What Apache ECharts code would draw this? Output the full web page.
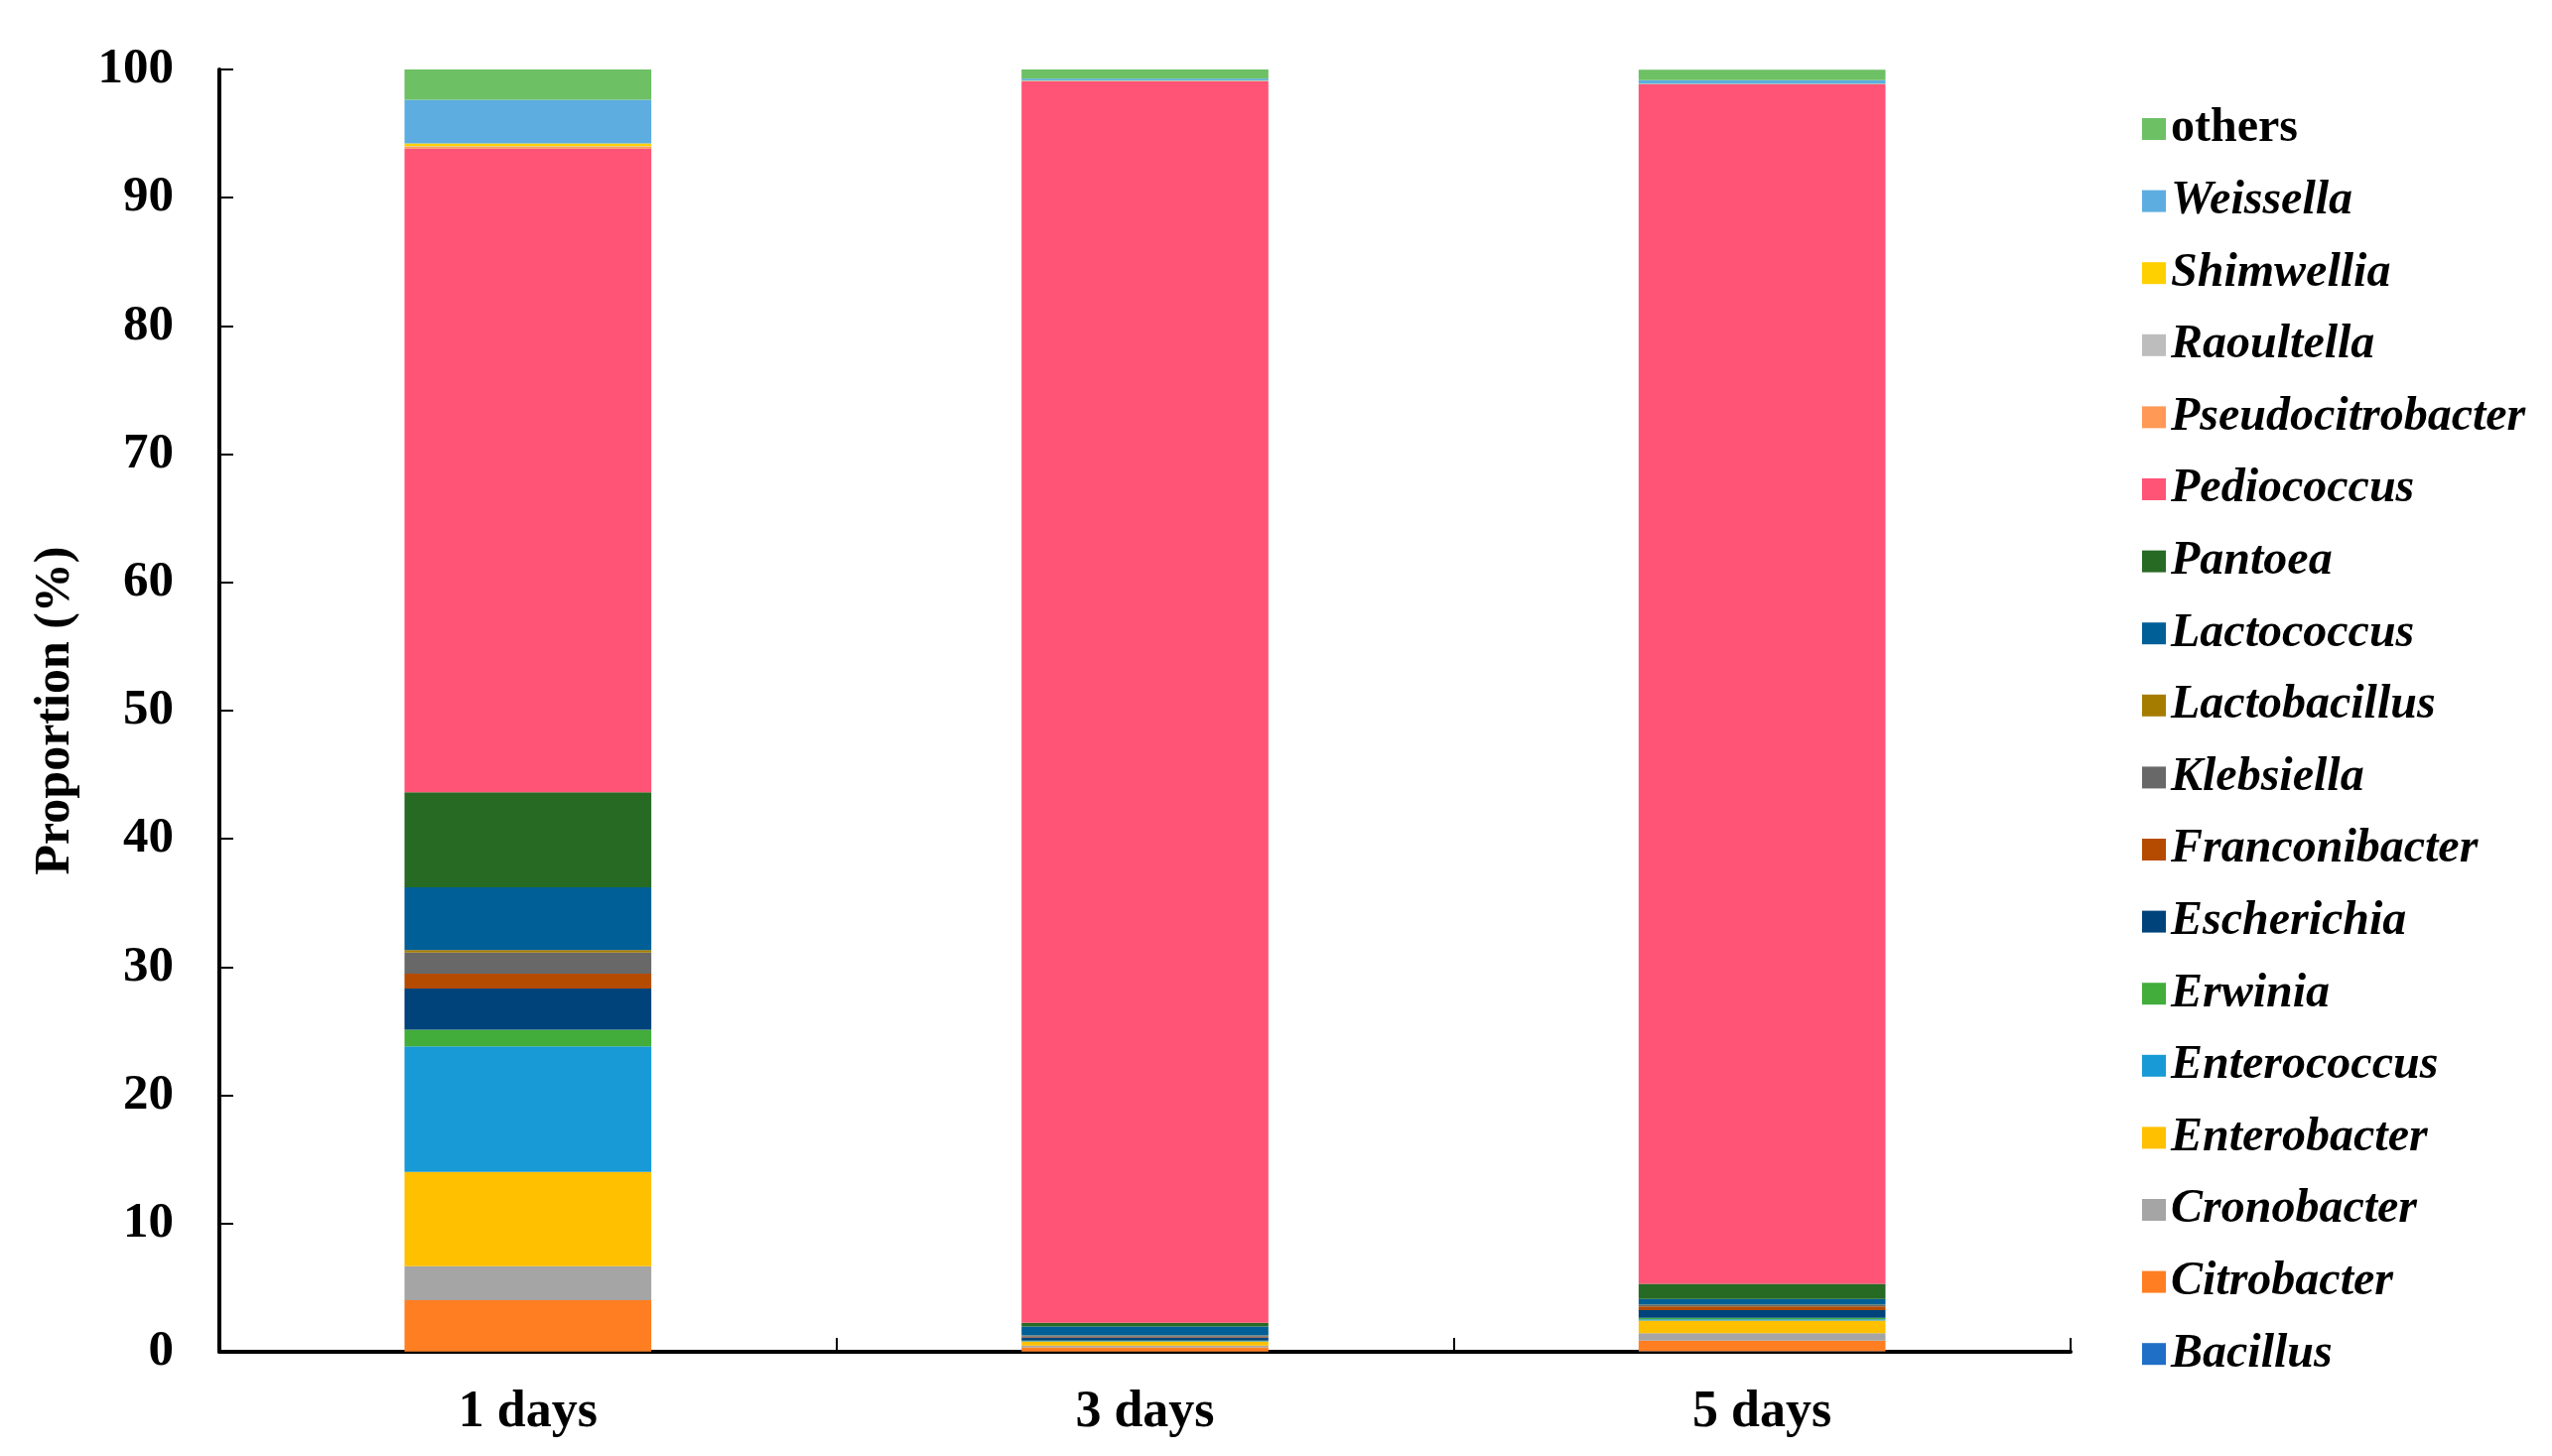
<!DOCTYPE html>
<html>
<head>
<meta charset="utf-8">
<title>Proportion by genus</title>
<script src="https://cdn.jsdelivr.net/npm/echarts@6/dist/echarts.min.js"></script>
<style>
  html, body { margin: 0; padding: 0; background: #fff; }
  #chart { width: 2571px; height: 1467px; }
</style>
</head>
<body>
<div id="chart"></div>
<script>
// sampling days
const days = ['1 days', '3 days', '5 days']
const yTicks = [0, 10, 20, 30, 40, 50, 60, 70, 80, 90, 100]

// relative abundance (%) per genus, one value per day
const bacillus = [0.02, 0.02, 0.03]
const citrobacter = [4.0, 0.33, 0.85]
const cronobacter = [2.65, 0.13, 0.57]
const enterobacter = [7.35, 0.31, 0.98]
const enterococcus = [9.8, 0.05, 0.1]
const erwinia = [1.3, 0.03, 0.12]
const escherichia = [3.2, 0.26, 0.6]
const franconibacter = [1.16, 0.06, 0.3]
const klebsiella = [1.65, 0.07, 0.08]
const lactobacillus = [0.2, 0.02, 0.05]
const lactococcus = [4.9, 0.7, 0.44]
const pantoea = [7.4, 0.28, 1.19]
const pediococcus = [50.2, 96.82, 93.52]
const pseudocitrobacter = [0.15, 0.02, 0.02]
const raoultella = [0.05, 0.01, 0.01]
const shimwellia = [0.2, 0.02, 0.02]
const weissella = [3.4, 0.15, 0.28]
const others = [2.37, 0.72, 0.83]

// stacking order, bottom to top
const genera = [
  ['Bacillus', bacillus, '#1F6FC6'],
  ['Citrobacter', citrobacter, '#FF7E22'],
  ['Cronobacter', cronobacter, '#A5A5A5'],
  ['Enterobacter', enterobacter, '#FFC000'],
  ['Enterococcus', enterococcus, '#189AD6'],
  ['Erwinia', erwinia, '#42AD3A'],
  ['Escherichia', escherichia, '#00437A'],
  ['Franconibacter', franconibacter, '#B54B00'],
  ['Klebsiella', klebsiella, '#686868'],
  ['Lactobacillus', lactobacillus, '#A67C00'],
  ['Lactococcus', lactococcus, '#005F96'],
  ['Pantoea', pantoea, '#276A24'],
  ['Pediococcus', pediococcus, '#FF5476'],
  ['Pseudocitrobacter', pseudocitrobacter, '#FF9955'],
  ['Raoultella', raoultella, '#BDBDBD'],
  ['Shimwellia', shimwellia, '#FFD000'],
  ['Weissella', weissella, '#5DADE0'],
  ['others', others, '#6DC064']
]

const serif = "'Liberation Serif', 'Times New Roman', serif"

const chart = echarts.init(document.getElementById('chart'))

const option = {
  animation: false,
  backgroundColor: '#fff',
  grid: {
    left: 221,
    right: 485,
    top: 70,
    bottom: 105
  },
  legend: {
    orient: 'vertical',
    left: 2153,
    top: 100,
    icon: 'rect',
    itemWidth: 24,
    itemHeight: 22,
    itemGap: 22.6,
    // legend lists the top of the stack first
    data: genera.map(g => g[0]).reverse(),
    formatter: name => name === 'others' ? `{n|${name}}` : `{i|${name}}`,
    textStyle: {
      fontFamily: serif,
      fontSize: 48,
      fontWeight: 'bold',
      color: '#000',
      lineHeight: 50,
      rich: {
        n: { fontFamily: serif, fontSize: 48, fontWeight: 'bold', fontStyle: 'normal', color: '#000', lineHeight: 50 },
        i: { fontFamily: serif, fontSize: 48, fontWeight: 'bold', fontStyle: 'italic', color: '#000', lineHeight: 50 }
      }
    }
  },
  xAxis: {
    type: 'category',
    data: days,
    axisLine: { lineStyle: { color: '#000', width: 4 } },
    axisTick: { show: true, inside: true, length: 14, lineStyle: { color: '#000', width: 2 } },
    axisLabel: {
      margin: 36,
      fontFamily: serif,
      fontSize: 52,
      fontWeight: 'bold',
      color: '#000'
    }
  },
  yAxis: {
    type: 'value',
    min: 0,
    max: 100,
    interval: 10,
    name: 'Proportion (%)',
    nameLocation: 'middle',
    nameGap: 140,
    nameTextStyle: {
      fontFamily: serif,
      fontSize: 50,
      fontWeight: 'bold',
      color: '#000'
    },
    splitLine: { show: false },
    axisLine: { show: true, lineStyle: { color: '#000', width: 4 } },
    axisTick: { show: true, inside: true, length: 14, lineStyle: { color: '#000', width: 2 } },
    axisLabel: {
      margin: 46,
      fontFamily: serif,
      fontSize: 51,
      fontWeight: 'bold',
      color: '#000',
      formatter: v => yTicks.includes(v) ? String(v) : ''
    }
  },
  series: genera.map(([name, values, color]) => ({
    name: name,
    type: 'bar',
    stack: 'total',
    barWidth: '40%',
    data: values,
    itemStyle: { color: color }
  }))
}

chart.setOption(option)
</script>
</body>
</html>
